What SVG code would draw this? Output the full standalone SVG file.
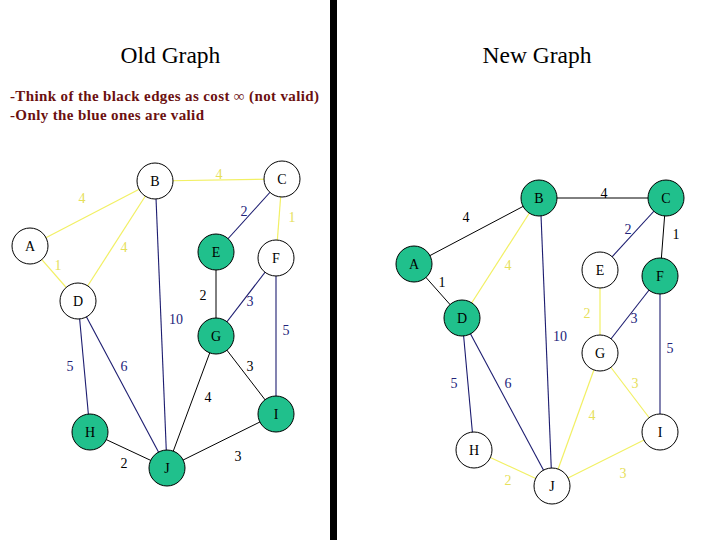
<svg xmlns="http://www.w3.org/2000/svg" width="720" height="540" viewBox="0 0 720 540">
<style>
text{font-family:"Liberation Serif","Times New Roman",serif}
.title{font-size:23.5px;fill:#000}
.note{font-size:15px;font-weight:bold;fill:#6b1010}
.nl{font-size:14px;fill:#000;text-anchor:middle}
.el{font-size:14px;text-anchor:middle}
.w{fill:#fff;stroke:#000;stroke-width:1}
.g{fill:#20c08c;stroke:#000;stroke-width:1}
.y{stroke:#f2f064;stroke-width:1.2;fill:none}
.b{stroke:#1c1c70;stroke-width:1.1;fill:none}
.k{stroke:#000;stroke-width:1;fill:none}
.ty{fill:#e6e05a}
.tb{fill:#23237a}
.tk{fill:#000}
</style>
<rect x="0" y="0" width="720" height="540" fill="#fff"/>
<rect x="330" y="0" width="7" height="540" fill="#000"/>
<text class="title" x="120.5" y="63">Old Graph</text>
<text class="title" x="482.5" y="63">New Graph</text>
<text class="note" x="10" y="101" textLength="309" lengthAdjust="spacing">-Think of the black edges as cost ∞ (not valid)</text>
<text class="note" x="10" y="120" textLength="194" lengthAdjust="spacing">-Only the blue ones are valid</text>

<g id="connectors">
<line class="y" x1="30" y1="246" x2="155" y2="181"/>
<line class="y" x1="155" y1="181" x2="282" y2="179"/>
<line class="y" x1="155" y1="181" x2="78" y2="301"/>
<line class="y" x1="30" y1="246" x2="78" y2="301"/>
<line class="b" x1="282" y1="179" x2="216" y2="252"/>
<line class="y" x1="282" y1="179" x2="276" y2="258"/>
<line class="k" x1="216" y1="252" x2="216" y2="336"/>
<line class="b" x1="276" y1="258" x2="216" y2="336"/>
<line class="b" x1="156" y1="198" x2="167" y2="468"/>
<line class="b" x1="276" y1="258" x2="276" y2="414"/>
<line class="b" x1="78" y1="301" x2="90" y2="432"/>
<line class="b" x1="78" y1="301" x2="167" y2="468"/>
<line class="k" x1="216" y1="336" x2="276" y2="414"/>
<line class="k" x1="216" y1="336" x2="167" y2="468"/>
<line class="k" x1="90" y1="432" x2="167" y2="468"/>
<line class="k" x1="167" y1="468" x2="276" y2="414"/>
<line class="k" x1="414" y1="264" x2="539" y2="198"/>
<line class="k" x1="539" y1="198" x2="666" y2="198"/>
<line class="y" x1="539" y1="198" x2="462" y2="318"/>
<line class="k" x1="414" y1="264" x2="462" y2="318"/>
<line class="b" x1="666" y1="198" x2="600" y2="270"/>
<line class="k" x1="666" y1="198" x2="660" y2="276"/>
<line class="y" x1="600" y1="270" x2="600" y2="353"/>
<line class="b" x1="660" y1="276" x2="600" y2="353"/>
<line class="b" x1="541" y1="215" x2="552" y2="486"/>
<line class="b" x1="660" y1="276" x2="660" y2="432"/>
<line class="b" x1="462" y1="318" x2="474" y2="450"/>
<line class="b" x1="462" y1="318" x2="552" y2="486"/>
<line class="y" x1="600" y1="353" x2="660" y2="432"/>
<line class="y" x1="600" y1="353" x2="552" y2="486"/>
<line class="y" x1="474" y1="450" x2="552" y2="486"/>
<line class="y" x1="552" y1="486" x2="660" y2="432"/>
</g>

<g id="edge-labels">
<text class="el ty" x="82" y="203">4</text>
<text class="el ty" x="219" y="179">4</text>
<text class="el ty" x="124" y="252">4</text>
<text class="el ty" x="58" y="270">1</text>
<text class="el tb" x="244" y="216">2</text>
<text class="el ty" x="292" y="222">1</text>
<text class="el tk" x="203" y="300">2</text>
<text class="el tb" x="250" y="306">3</text>
<text class="el tb" x="176" y="324">10</text>
<text class="el tb" x="286" y="335">5</text>
<text class="el tb" x="70" y="371">5</text>
<text class="el tb" x="124" y="371">6</text>
<text class="el tk" x="250" y="371">3</text>
<text class="el tk" x="208" y="402">4</text>
<text class="el tk" x="124" y="468">2</text>
<text class="el tk" x="238" y="461">3</text>
<text class="el tk" x="466" y="222">4</text>
<text class="el tk" x="604" y="198">4</text>
<text class="el ty" x="508" y="270">4</text>
<text class="el tk" x="442" y="287">1</text>
<text class="el tb" x="628" y="234">2</text>
<text class="el tk" x="676" y="239">1</text>
<text class="el ty" x="587" y="318">2</text>
<text class="el tb" x="634" y="323">3</text>
<text class="el tb" x="560" y="341">10</text>
<text class="el tb" x="670" y="353">5</text>
<text class="el tb" x="454" y="388">5</text>
<text class="el tb" x="508" y="388">6</text>
<text class="el ty" x="635" y="388">3</text>
<text class="el ty" x="592" y="420">4</text>
<text class="el ty" x="508" y="485">2</text>
<text class="el ty" x="623" y="478">3</text>
</g>

<g id="old-A"><circle class="w" cx="30" cy="246" r="18"/><text class="nl" x="30" y="251">A</text></g>
<g id="old-B"><circle class="w" cx="155" cy="181" r="18"/><text class="nl" x="155" y="186">B</text></g>
<g id="old-C"><circle class="w" cx="282" cy="179" r="18"/><text class="nl" x="282" y="184">C</text></g>
<g id="old-D"><circle class="w" cx="78" cy="301" r="18"/><text class="nl" x="78" y="306">D</text></g>
<g id="old-E"><circle class="g" cx="216" cy="252" r="18"/><text class="nl" x="216" y="257">E</text></g>
<g id="old-F"><circle class="w" cx="276" cy="258" r="18"/><text class="nl" x="276" y="263">F</text></g>
<g id="old-G"><circle class="g" cx="216" cy="336" r="18"/><text class="nl" x="216" y="341">G</text></g>
<g id="old-H"><circle class="g" cx="90" cy="432" r="18"/><text class="nl" x="90" y="437">H</text></g>
<g id="old-I"><circle class="g" cx="276" cy="414" r="18"/><text class="nl" x="276" y="419">I</text></g>
<g id="old-J"><circle class="g" cx="167" cy="468" r="18"/><text class="nl" x="167" y="473">J</text></g>

<g id="new-A"><circle class="g" cx="414" cy="264" r="18"/><text class="nl" x="414" y="269">A</text></g>
<g id="new-B"><circle class="g" cx="539" cy="198" r="18"/><text class="nl" x="539" y="203">B</text></g>
<g id="new-C"><circle class="g" cx="666" cy="198" r="18"/><text class="nl" x="666" y="203">C</text></g>
<g id="new-D"><circle class="g" cx="462" cy="318" r="18"/><text class="nl" x="462" y="323">D</text></g>
<g id="new-E"><circle class="w" cx="600" cy="270" r="18"/><text class="nl" x="600" y="275">E</text></g>
<g id="new-F"><circle class="g" cx="660" cy="276" r="18"/><text class="nl" x="660" y="281">F</text></g>
<g id="new-G"><circle class="w" cx="600" cy="353" r="18"/><text class="nl" x="600" y="358">G</text></g>
<g id="new-H"><circle class="w" cx="474" cy="450" r="18"/><text class="nl" x="474" y="455">H</text></g>
<g id="new-I"><circle class="w" cx="660" cy="432" r="18"/><text class="nl" x="660" y="437">I</text></g>
<g id="new-J"><circle class="w" cx="552" cy="486" r="18"/><text class="nl" x="552" y="491">J</text></g>
</svg>
